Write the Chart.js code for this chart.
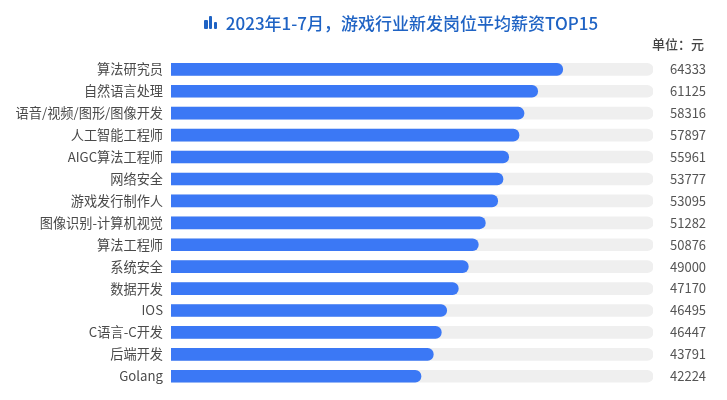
<!DOCTYPE html>
<html><head><meta charset="utf-8">
<style>html,body{margin:0;padding:0;background:#fff;overflow:hidden}#w{position:relative;width:727px;height:400px;overflow:hidden}
#ic{position:absolute;left:204px;top:15px;width:13px;height:14px}
#ic i{position:absolute;bottom:0;width:3.5px;background:#1f63c4;border-radius:1px}
#u{position:absolute;left:652px;top:34px;font:500 13px "Noto Sans CJK SC";color:#444}</style>
<script src="https://cdn.jsdelivr.net/npm/chart.js@4/dist/chart.umd.min.js"></script></head>
<body><div id="w"><canvas id="c" width="727" height="404"></canvas>
<div id="ic"><i style="left:0;height:9px"></i><i style="left:4.7px;height:13px"></i><i style="left:9.5px;height:7px"></i></div>
<div id="u">单位：元</div></div>
<script>
const titleText = "2023年1-7月，游戏行业新发岗位平均薪资TOP15";
const categories = ["算法研究员","自然语言处理","语音/视频/图形/图像开发","人工智能工程师","AIGC算法工程师","网络安全","游戏发行制作人","图像识别-计算机视觉","算法工程师","系统安全","数据开发","IOS","C语言-C开发","后端开发","Golang"];
// Printed salary labels, as shown at the right of the reference.
const salaries = [64333,61125,58316,57897,55961,53777,53095,51282,50876,49000,47170,46495,46447,43791,42224];
// Bar lengths as drawn in the reference. Its bars do not scale exactly with
// its printed numbers (e.g. C语言-C开发), so these are read off the bars themselves.
const drawnLengths = [64446,60332,58078,57256,55561,54623,53751,51711,50560,48914,47269,45360,44472,43156,41132];
const trackLengths = [79300,79300,79300,79300,79300,79300,79300,79300,79300,79300,79300,79300,79300,79300,79300];
const axisMax = 79300;
const font = '"Noto Sans CJK SC","Noto Sans",sans-serif';
const radius = {topRight:6,bottomRight:6,topLeft:0,bottomLeft:0};
new Chart(document.getElementById('c'),{
 type:'bar',
 data:{labels:categories,datasets:[
  {data:drawnLengths,backgroundColor:'#3b78f5',order:1,grouped:false,barThickness:12,borderSkipped:false,borderRadius:radius,yAxisID:'y'},
  {data:trackLengths,backgroundColor:'#efefef',order:2,grouped:false,barThickness:12,borderSkipped:false,borderRadius:radius,yAxisID:'y'}
 ]},
 options:{indexAxis:'y',responsive:false,animation:false,
  layout:{autoPadding:false,padding:{top:0,bottom:0,left:0,right:0}},
  plugins:{legend:{display:false},tooltip:{enabled:false},
   title:{display:true,text:titleText,fullSize:false,color:'#1f63c4',font:{family:font,size:17,weight:'500'},padding:{top:13,bottom:25}}},
  scales:{
   x:{display:false,min:0,max:axisMax},
   y:{position:'left',grid:{display:false},border:{display:false},afterFit(s){s.width=171},
      ticks:{color:'#4a4a4a',padding:0,font:{family:font,size:13.2},autoSkip:false}},
   y2:{position:'right',type:'category',labels:salaries.map(String),grid:{display:false},border:{display:false},afterFit(s){s.width=74},
      ticks:{color:'#555',padding:9,font:{family:font,size:13},autoSkip:false}}
  }}
});
</script></body></html>
